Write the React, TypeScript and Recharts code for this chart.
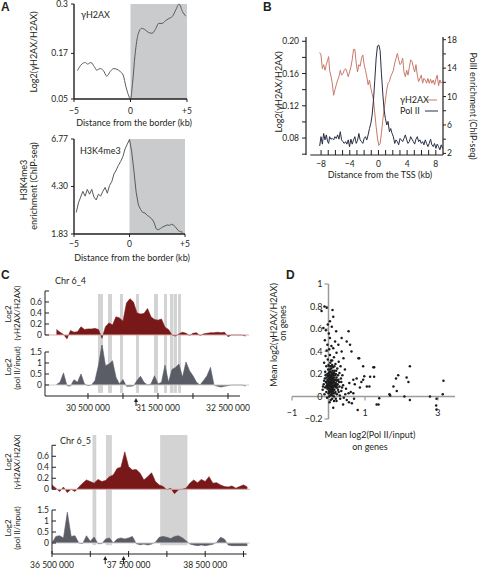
import React from 'react';
import {
  LineChart,
  Line,
  AreaChart,
  Area,
  ScatterChart,
  Scatter,
  XAxis,
  YAxis,
  ReferenceArea,
  ReferenceLine,
  ReferenceDot,
} from 'recharts';

const FONT = 'Lato, "Open Sans", sans-serif';
const INK = '#231f20';
const SHADE = '#c9cbcd';
const BAND = '#cbcbcb';
const MAROON = '#781818';
const SLATE = '#5b5d66';
const SALMON = '#c87a6c';
const NAVY = '#2a2e45';
const AXIS_GRAY = '#9b9b9b';

// A: profiles around domain borders (kb)
const gammaBorderKb = [-4.7, -4.3, -4.0, -3.8, -3.5, -3.2, -3.0, -2.7, -2.4, -2.1, -1.8, -1.5, -1.2, -0.9, -0.65, -0.4, -0.2, 0, 0.18, 0.4, 0.7, 1.0, 1.3, 1.6, 1.9, 2.2, 2.5, 2.8, 3.1, 3.4, 3.7, 4.0, 4.3, 4.6, 4.9];
const gammaBorder = [0.125, 0.142, 0.146, 0.142, 0.146, 0.135, 0.126, 0.13, 0.125, 0.11, 0.122, 0.13, 0.128, 0.122, 0.113, 0.082, 0.062, 0.05, 0.091, 0.166, 0.223, 0.236, 0.232, 0.225, 0.223, 0.233, 0.249, 0.249, 0.256, 0.262, 0.267, 0.284, 0.3, 0.28, 0.268];
const k4BorderKb = [-4.8, -4.6, -4.4, -4.2, -4.0, -3.8, -3.6, -3.4, -3.2, -3.0, -2.8, -2.6, -2.4, -2.2, -2.0, -1.8, -1.6, -1.4, -1.2, -1.0, -0.8, -0.6, -0.4, -0.2, 0, 0.2, 0.4, 0.6, 0.8, 1.0, 1.2, 1.4, 1.6, 1.8, 2.0, 2.2, 2.4, 2.6, 2.8, 3.0, 3.2, 3.4, 3.6, 3.8, 4.0, 4.2, 4.4, 4.6, 4.8];
const k4Border = [2.95, 3.45, 3.75, 4.05, 3.8, 4.15, 3.9, 4.15, 3.75, 3.6, 3.9, 3.8, 4.05, 4.25, 3.95, 4.35, 4.55, 4.95, 5.15, 5.4, 5.6, 5.85, 6.25, 6.5, 6.75, 6.1, 5.1, 4.0, 3.35, 3.1, 2.95, 2.92, 2.8, 2.72, 2.62, 2.45, 2.1, 2.05, 2.12, 2.2, 2.25, 2.3, 2.28, 2.34, 2.28, 2.15, 2.0, 1.95, 1.92];

// B: profiles around the TSS
const tssKb = [-8.19, -8.01, -7.82, -7.64, -7.45, -7.27, -7.08, -6.94, -6.81, -6.62, -6.44, -6.25, -6.06, -5.88, -5.69, -5.51, -5.32, -5.14, -4.95, -4.77, -4.58, -4.4, -4.21, -4.03, -3.84, -3.66, -3.47, -3.29, -3.1, -2.92, -2.73, -2.55, -2.36, -2.18, -1.99, -1.81, -1.62, -1.44, -1.25, -1.06, -0.88, -0.69, -0.51, -0.32, -0.14, 0.05, 0.23, 0.42, 0.6, 0.79, 0.97, 1.16, 1.34, 1.53, 1.71, 1.9, 2.08, 2.27, 2.45, 2.64, 2.82, 3.01, 3.19, 3.38, 3.56, 3.75, 3.94, 4.12, 4.31, 4.49, 4.68, 4.86, 5.05, 5.23, 5.42, 5.6, 5.79, 5.97, 6.16, 6.34, 6.53, 6.71, 6.9, 7.08, 7.27, 7.45, 7.64, 7.82, 8.01, 8.19, 8.38, 8.56, 8.75, 8.94];
const gammaTss = [0.186, 0.183, 0.166, 0.171, 0.164, 0.171, 0.177, 0.181, 0.164, 0.157, 0.148, 0.133, 0.14, 0.146, 0.152, 0.156, 0.164, 0.158, 0.16, 0.164, 0.166, 0.162, 0.156, 0.162, 0.168, 0.177, 0.19, 0.19, 0.173, 0.162, 0.171, 0.169, 0.179, 0.183, 0.171, 0.164, 0.156, 0.146, 0.152, 0.142, 0.135, 0.127, 0.111, 0.094, 0.08, 0.071, 0.073, 0.086, 0.102, 0.115, 0.127, 0.14, 0.148, 0.15, 0.156, 0.16, 0.164, 0.173, 0.179, 0.185, 0.177, 0.171, 0.173, 0.179, 0.162, 0.156, 0.164, 0.158, 0.168, 0.177, 0.175, 0.168, 0.162, 0.171, 0.158, 0.15, 0.154, 0.158, 0.148, 0.154, 0.152, 0.148, 0.154, 0.148, 0.153, 0.148, 0.152, 0.146, 0.153, 0.158, 0.145, 0.152, 0.148, 0.15];
const polTss = [3.04, 4.35, 3.3, 4.8, 3.9, 4.6, 3.65, 3.4, 4.35, 4.0, 4.1, 3.9, 4.35, 4.1, 4.6, 4.0, 5.05, 3.9, 3.65, 3.4, 3.65, 3.3, 3.9, 2.95, 4.0, 3.3, 3.9, 4.35, 3.4, 3.8, 4.8, 3.9, 3.65, 3.4, 4.1, 4.35, 3.9, 4.6, 5.5, 6.2, 7.4, 9.5, 12.3, 15.4, 17.1, 17.25, 16.5, 13.2, 10.5, 8.1, 6.9, 6.0, 6.5, 5.05, 5.5, 4.8, 4.35, 3.4, 3.9, 3.65, 3.2, 4.1, 3.9, 3.65, 4.1, 4.6, 3.9, 3.4, 3.65, 4.35, 4.0, 3.65, 3.3, 4.0, 4.35, 3.65, 3.9, 3.4, 3.65, 3.2, 3.9, 3.4, 2.95, 3.4, 4.0, 3.2, 2.95, 3.4, 2.7, 3.3, 2.95, 2.5, 3.2, 2.7];

// C: genome browser tracks (Mb)
const chr64Mb = [30.05, 30.1, 30.15, 30.2, 30.25, 30.3, 30.35, 30.4, 30.45, 30.5, 30.55, 30.6, 30.65, 30.7, 30.75, 30.8, 30.85, 30.9, 30.95, 31.0, 31.05, 31.1, 31.15, 31.2, 31.25, 31.3, 31.35, 31.4, 31.45, 31.5, 31.55, 31.6, 31.65, 31.7, 31.75, 31.8, 31.85, 31.9, 31.95, 32.0, 32.05, 32.1, 32.15, 32.2, 32.25, 32.3, 32.35, 32.4, 32.45, 32.5, 32.55, 32.6, 32.65, 32.7, 32.75];
const chr64Gamma = [0.1, 0.05, 0.01, -0.07, 0.08, 0.05, 0.06, 0.15, 0.1, 0.11, 0.11, 0.12, 0.1, -0.06, 0.15, 0.22, 0.18, 0.33, 0.31, 0.25, 0.58, 0.66, 0.6, 0.4, 0.38, 0.39, 0.48, 0.33, 0.28, 0.27, 0.29, 0.14, 0.1, 0.0, -0.02, 0.02, 0.05, 0.03, -0.01, 0.03, 0.04, -0.01, 0.02, 0.03, 0.04, 0.04, 0.05, 0.04, 0.05, -0.03, 0, 0, 0, 0, -0.02];
const chr64Pol = [0.02, 0.12, 0.55, -0.03, -0.05, 0.24, 0.12, 0.5, 0.05, -0.03, 0, 0.2, 0.9, 1.85, 0.88, 0.95, 1.1, 0.35, 0.05, 0.25, -0.06, -0.06, -0.04, 0.2, 0.4, 0.12, 0, 0.05, 0.42, 0.05, 0.12, 0.9, 0.12, 0.7, 0.8, 0.95, 0.35, 1.05, 0.65, 0.42, 0.12, 0, 0.2, 0.42, 0.8, 0, -0.06, -0.09, -0.06, -0.03, 0, 0, 0, 0, -0.05];
const chr64Bands = [[30.643, 30.714], [30.786, 30.843], [30.957, 31.0], [31.186, 31.229], [31.443, 31.5], [31.586, 31.629], [31.671, 31.714], [31.721, 31.771], [31.786, 31.829]];
const chr64Arrows = [31.186];
const chr64Ticks = [30.5, 31.0, 31.5, 32.0, 32.5];

const chr65Mb = [36.5, 36.55, 36.6, 36.65, 36.7, 36.75, 36.8, 36.85, 36.9, 36.95, 37.0, 37.05, 37.1, 37.15, 37.2, 37.25, 37.3, 37.35, 37.4, 37.45, 37.5, 37.55, 37.6, 37.65, 37.7, 37.75, 37.8, 37.85, 37.9, 37.95, 38.0, 38.05, 38.1, 38.15, 38.2, 38.25, 38.3, 38.35, 38.4, 38.45, 38.5, 38.55, 38.6, 38.65, 38.7, 38.75, 38.8, 38.85, 38.9, 38.95, 39.0, 39.05];
const chr65Gamma = [0.08, 0.02, -0.04, 0.04, -0.06, 0, -0.04, 0.04, 0.11, 0.17, 0.14, 0.11, 0.18, 0.14, 0.16, 0.23, 0.26, 0.38, 0.4, 0.68, 0.41, 0.35, 0.36, 0.29, 0.17, 0.23, 0.3, 0.14, 0.08, 0.05, -0.01, 0.02, -0.08, -0.01, 0, 0.02, 0.11, 0.17, 0.12, 0.18, 0.14, 0.23, 0.11, 0.12, 0.08, 0.05, 0.04, 0.06, 0.02, 0.05, 0.08, 0.04];
const chr65Pol = [0, 0.3, 0.33, 0.23, 1.4, 0.3, 0.33, 0, -0.03, 0.33, 0.08, 0.27, -0.03, -0.03, 0.18, 0.23, 0, 0.18, 0.23, 0.18, 0.23, 0.3, -0.03, -0.08, -0.05, -0.09, -0.05, 0.03, 0.26, 0.3, 0.26, 0.2, 0.3, 0.33, 0.24, 0.1, -0.05, -0.09, -0.12, -0.09, -0.12, -0.09, -0.06, 0.03, 0.26, 0.18, -0.09, -0.12, -0.12, -0.12, -0.12, -0.12];
const chr65Bands = [[37.029, 37.078], [37.204, 37.282], [37.912, 38.268]];
const chr65Arrows = [37.195, 37.434];
const chr65Ticks = [36.5, 37.0, 37.5, 38.0, 38.5, 39.0];

// D: per-gene means [log2(Pol II/input), log2(gH2AX/H2AX)]
const genePoints: [number, number][] = [
  [-0.11, 0.8], [-0.05, 0.79], [-0.19, 0.76], [0.11, 0.77], [0.13, 0.71], [0.04, 0.67], [-0.02, 0.64], [0.09, 0.62],
  [-0.14, 0.61], [-0.07, 0.59], [0.21, 0.58], [0.55, 0.58], [0.01, 0.56], [0.36, 0.52], [0.04, 0.52], [-0.1, 0.5],
  [0.18, 0.49], [0.5, 0.49], [0.27, 0.46], [0.59, 0.46], [-0.03, 0.46], [0.08, 0.45], [0.13, 0.43], [-0.05, 0.41],
  [0.63, 0.4], [0.36, 0.4], [0.02, 0.42], [0.22, 0.39], [0.04, 0.37], [-0.08, 0.36], [0.15, 0.35], [0.41, 0.34],
  [0.82, 0.34], [-0.02, 0.33], [0.1, 0.32], [0.28, 0.31], [0.05, 0.3], [-0.12, 0.3], [0.19, 0.29], [0.0, 0.28],
  [0.95, 0.27], [1.25, 0.26], [0.33, 0.27], [-0.06, 0.27], [0.12, 0.26], [0.07, 0.25], [0.24, 0.25], [-0.01, 0.24],
  [0.45, 0.24], [0.16, 0.23], [0.03, 0.22], [-0.09, 0.22], [0.09, 0.21], [0.3, 0.21], [0.2, 0.2], [-0.03, 0.2],
  [0.13, 0.2], [0.05, 0.19], [0.38, 0.19], [0.0, 0.18], [0.08, 0.18], [0.15, 0.17], [-0.05, 0.17], [0.22, 0.17],
  [0.03, 0.16], [0.11, 0.16], [-0.1, 0.16], [0.27, 0.15], [0.06, 0.15], [0.18, 0.15], [-0.02, 0.14], [0.1, 0.14],
  [0.01, 0.13], [0.14, 0.13], [0.35, 0.13], [-0.07, 0.13], [0.05, 0.12], [0.2, 0.12], [0.09, 0.12], [-0.13, 0.11],
  [0.02, 0.11], [0.25, 0.11], [0.12, 0.1], [0.07, 0.1], [-0.04, 0.1], [0.17, 0.1], [0.4, 0.1], [0.0, 0.09],
  [0.04, 0.09], [0.14, 0.09], [0.3, 0.09], [-0.09, 0.08], [0.08, 0.08], [0.21, 0.08], [0.02, 0.07], [0.11, 0.07],
  [0.48, 0.07], [-0.03, 0.07], [0.16, 0.06], [0.06, 0.06], [0.26, 0.06], [-0.16, 0.06], [0.01, 0.05], [0.1, 0.05],
  [0.35, 0.05], [0.04, 0.04], [0.19, 0.04], [-0.06, 0.04], [0.13, 0.03], [0.55, 0.03], [0.0, 0.03], [0.08, 0.02],
  [0.23, 0.02], [-0.11, 0.02], [0.05, 0.01], [0.31, 0.01], [0.15, 0.0], [0.02, 0.0], [0.42, -0.01], [-0.04, -0.01],
  [0.1, -0.02], [0.2, -0.02], [0.06, -0.03], [0.32, -0.02], [0.5, -0.03], [0.15, -0.04], [0.22, -0.04], [0.64, -0.06],
  [0.03, -0.05], [0.13, -0.1], [0.4, -0.07], [0.8, -0.12], [0.03, 0.21], [0.07, 0.14], [0.12, 0.19], [-0.01, 0.11],
  [0.04, 0.13], [0.09, 0.16], [0.14, 0.06], [0.18, 0.19], [-0.08, 0.19], [0.06, 0.27], [0.01, 0.16], [0.1, 0.09],
  [0.16, 0.13], [0.23, 0.14], [0.02, 0.19], [0.08, 0.04], [0.12, 0.12], [-0.02, 0.08], [0.05, 0.07], [0.19, 0.09],
  [0.26, 0.19], [0.11, 0.23], [-0.05, 0.12], [0.07, 0.17], [0.03, 0.1], [0.14, 0.15], [0.0, 0.14], [0.09, 0.19],
  [0.17, 0.03], [0.21, 0.23], [-0.12, 0.14], [0.06, 0.12], [0.13, 0.17], [0.02, 0.03], [0.1, 0.28], [0.29, 0.13],
  [0.04, 0.24], [-0.06, 0.09], [0.15, 0.21], [0.08, 0.1], [0.34, 0.16], [0.01, 0.21], [0.18, 0.11], [0.11, 0.01],
  [0.24, 0.08], [-0.03, 0.15], [0.07, 0.32], [0.16, 0.27], [0.05, 0.17], [0.12, 0.05], [-0.15, 0.09], [0.28, 0.04],
  [0.09, 0.06], [0.2, 0.15], [0.03, 0.27], [0.37, 0.08], [-0.01, 0.19], [0.13, 0.08], [0.06, 0.22], [0.22, 0.1],
  [0.68, 0.15], [0.77, 0.16], [0.95, 0.15], [0.98, 0.18], [1.14, 0.175], [1.25, 0.175], [1.05, 0.09], [0.86, 0.08],
  [1.12, 0.09], [0.61, 0.04], [0.68, 0.03], [0.57, 0.12], [0.72, 0.11], [0.9, 0.13], [1.39, -0.015], [1.37, -0.07],
  [1.32, -0.07], [1.23, 0.26], [0.84, 0.34], [0.46, 0.02], [0.7, -0.02], [0.56, -0.05],
  [1.67, 0.02], [1.78, 0.09], [1.85, 0.16], [1.91, 0.19], [1.87, 0.05], [2.08, 0.0], [2.14, 0.17], [2.19, 0.13],
  [2.23, 0.27], [2.23, -0.03], [2.78, 0.0], [2.96, -0.02], [3.15, 0.14], [3.13, 0.02], [2.95, -0.08], [2.96, -0.115],
  [1.69, 0.01],
];
const dYTicks = [-0.2, 0, 0.2, 0.4, 0.6, 0.8, 1];
const dXTicks = [-1, 1, 3];

const tickFont = { fontFamily: FONT, fontSize: 8.5, fill: INK };

const minus = (v: number) => (v < 0 ? `\u2212${Math.abs(v)}` : String(v));
const spaced = (v: number) => String(Math.round(v * 1e6)).replace(/\B(?=(\d{3})+(?!\d))/g, ' ');

// axis ticks drawn by hand: tickSize/tickMargin are 0, so x/y sit on the axis line
const leftTick = (len: number, gap: number, fmt: (v: number) => string) => (p: any) => {
  const label = fmt(p.payload.value);
  return (
    <g>
      <line x1={p.x} x2={p.x + len} y1={p.y} y2={p.y} stroke={INK} />
      {label && (
        <text x={p.x - gap} y={p.y} dy="0.35em" textAnchor="end" {...tickFont}>
          {label}
        </text>
      )}
    </g>
  );
};

const rightTick = (len: number, gap: number, fmt: (v: number) => string) => (p: any) => {
  const label = fmt(p.payload.value);
  return (
    <g>
      <line x1={p.x} x2={p.x + len} y1={p.y} y2={p.y} stroke={INK} />
      {label && (
        <text x={p.x + gap} y={p.y} dy="0.35em" textAnchor="start" {...tickFont}>
          {label}
        </text>
      )}
    </g>
  );
};

const bottomTick = (up: number, down: number, gap: number, fmt: (v: number) => string) => (p: any) => {
  const label = fmt(p.payload.value);
  return (
    <g>
      <line x1={p.x} x2={p.x} y1={p.y - up} y2={p.y + down} stroke={INK} />
      {label && (
        <text x={p.x} y={p.y + gap} dy="0.35em" textAnchor="middle" {...tickFont}>
          {label}
        </text>
      )}
    </g>
  );
};

const borderFmt = (v: number) => (v > 0 ? `+${v}` : minus(v));

function GammaBorder() {
  const data = gammaBorderKb.map((kb, i) => ({ kb, v: gammaBorder[i] }));
  return (
    <LineChart width={200} height={130} data={data} margin={{ top: 4, right: 13, bottom: 0, left: 0 }}>
      <XAxis type="number" dataKey="kb" domain={[-5, 5]} ticks={[-5, 0, 5]} interval={0} height={31} tickSize={0}
        tickMargin={0} tickLine={false} axisLine={{ stroke: INK, strokeWidth: 1.4 }} tick={bottomTick(0, 3, 12, borderFmt)} />
      <YAxis type="number" domain={[0.05, 0.3]} ticks={[0.05, 0.17, 0.3]} interval={0} width={74} tickSize={0}
        tickMargin={0} tickLine={false} axisLine={{ stroke: INK, strokeWidth: 1.4 }}
        tick={leftTick(-3, 6, (v) => (v === 0.3 ? '0.3' : v.toFixed(2)))} />
      <ReferenceArea x1={0} x2={5} fill={SHADE} fillOpacity={1} stroke="none" />
      <Line dataKey="v" type="monotone" stroke="#5a5a5a" strokeWidth={1} dot={false} isAnimationActive={false} />
    </LineChart>
  );
}

function K4Border() {
  const data = k4BorderKb.map((kb, i) => ({ kb, v: k4Border[i] }));
  return (
    <LineChart width={200} height={130} data={data} margin={{ top: 4, right: 15, bottom: 0, left: 0 }}>
      <XAxis type="number" dataKey="kb" domain={[-5, 5]} ticks={[-5, 0, 5]} interval={0} height={31} tickSize={0}
        tickMargin={0} tickLine={false} axisLine={{ stroke: INK, strokeWidth: 1.4 }} tick={bottomTick(0, 3, 10, borderFmt)} />
      <YAxis type="number" domain={[1.83, 6.77]} ticks={[1.83, 4.3, 6.77]} interval={0} width={74} tickSize={0}
        tickMargin={0} tickLine={false} axisLine={{ stroke: INK, strokeWidth: 1.4 }} tick={leftTick(-3, 6, (v) => v.toFixed(2))} />
      <ReferenceArea x1={0} x2={5} fill={SHADE} fillOpacity={1} stroke="none" />
      <Line dataKey="v" type="linear" stroke="#5a5a5a" strokeWidth={1} dot={false} isAnimationActive={false} />
    </LineChart>
  );
}

function TssProfile() {
  const data = tssKb.map((kb, i) => ({ kb, gamma: gammaTss[i], pol: polTss[i] }));
  const xTicks = [-8, -7, -6, -5, -4, -3, -2, -1, 0, 1, 2, 3, 4, 5, 6, 7, 8];
  const leftTicks = [0.06, 0.08, 0.1, 0.12, 0.14, 0.16, 0.18, 0.2];
  const rightTicks = [2, 4, 6, 8, 10, 12, 14, 16, 18];
  return (
    <LineChart width={238} height={190} data={data} margin={{ top: 37, right: 0, bottom: 0, left: 0 }}>
      <XAxis type="number" dataKey="kb" domain={[-10.1, 9]} ticks={xTicks} interval={0} height={35} tickSize={0}
        tickMargin={0} tickLine={false} axisLine={false}
        tick={bottomTick(5, 0, 9, (v) => (v % 4 === 0 ? minus(v) : ''))} />
      <YAxis yAxisId="left" type="number" domain={[0.059, 0.2053]} ticks={leftTicks} interval={0} width={66}
        tickSize={0} tickMargin={0} tickLine={false} axisLine={{ stroke: INK, strokeWidth: 1.2 }}
        tick={leftTick(-4, 7, (v) => (Math.round(v * 100) % 4 === 0 ? v.toFixed(2) : ''))} />
      <YAxis yAxisId="right" orientation="right" type="number" domain={[1.77, 18.38]} ticks={rightTicks} interval={0}
        width={35} tickSize={0} tickMargin={0} tickLine={false} axisLine={{ stroke: INK, strokeWidth: 1.2 }}
        tick={rightTick(3, 4, (v) => ((v - 2) % 4 === 0 ? String(v) : ''))} />
      <ReferenceLine yAxisId="right" segment={[{ x: -9.5, y: 1.77 }, { x: 9, y: 1.77 }]} stroke={INK} strokeWidth={1.2} />
      <Line yAxisId="left" dataKey="gamma" type="linear" stroke={SALMON} strokeWidth={1} dot={false} isAnimationActive={false} />
      <Line yAxisId="right" dataKey="pol" type="linear" stroke={NAVY} strokeWidth={1} dot={false} isAnimationActive={false} />
    </LineChart>
  );
}

const upArrow = (p: any) => (
  <g>
    <line x1={p.cx} x2={p.cx} y1={p.cy + 4} y2={p.cy + 10} stroke={INK} strokeWidth={1} />
    <polygon points={`${p.cx - 2},${p.cy + 6} ${p.cx + 2},${p.cy + 6} ${p.cx},${p.cy + 2}`} fill={INK} />
  </g>
);

interface TrackProps {
  mb: number[];
  values: number[];
  bands: number[][];
  xDomain: [number, number];
  yDomain: [number, number];
  bandY: [number, number];
  yTicks: number[];
  axisSpan: [number, number];
  width: number;
  height: number;
  top: number;
  right: number;
  yWidth: number;
  color: string;
  zeroColor: string;
  yFmt: (v: number) => string;
  bottom?: {
    ticks: number[];
    axisEnd: number;
    height: number;
    gap: number;
    arrows: number[];
  };
}

function Track(t: TrackProps) {
  const data = t.mb.map((m, i) => ({ m, v: t.values[i] }));
  const x0 = t.xDomain[0];
  return (
    <AreaChart width={t.width} height={t.height} data={data} margin={{ top: t.top, right: t.right, bottom: 0, left: 0 }}>
      {t.bottom ? (
        <XAxis type="number" dataKey="m" domain={t.xDomain} ticks={t.bottom.ticks} interval={0} height={t.bottom.height}
          tickSize={0} tickMargin={0} tickLine={false} axisLine={false} allowDataOverflow
          tick={bottomTick(3, 3, t.bottom.gap, (v) => (Math.round(v * 10) % 10 === 5 ? spaced(v) : ''))} />
      ) : (
        <XAxis type="number" dataKey="m" domain={t.xDomain} hide allowDataOverflow />
      )}
      <YAxis type="number" domain={t.yDomain} ticks={t.yTicks} interval={0} width={t.yWidth} tickSize={0}
        tickMargin={0} tickLine={false} axisLine={false} allowDataOverflow tick={leftTick(4, 3, t.yFmt)} />
      {t.bands.map(([a, b]) => (
        <ReferenceArea key={a} x1={a} x2={b} y1={t.bandY[0]} y2={t.bandY[1]} fill={BAND} fillOpacity={0.85} stroke="none" />
      ))}
      <ReferenceLine y={0} stroke={t.zeroColor} strokeWidth={1} />
      <Area dataKey="v" type="linear" baseValue={0} stroke={t.color} strokeWidth={0.6} fill={t.color} fillOpacity={1}
        isAnimationActive={false} />
      <ReferenceLine segment={[{ x: x0, y: t.axisSpan[0] }, { x: x0, y: t.axisSpan[1] }]} stroke={INK} strokeWidth={1} />
      {t.bottom && (
        <ReferenceLine segment={[{ x: x0, y: t.yDomain[0] }, { x: t.bottom.axisEnd, y: t.yDomain[0] }]} stroke={INK}
          strokeWidth={1} />
      )}
      {t.bottom &&
        t.bottom.arrows.map((a) => (
          <ReferenceDot key={a} x={a} y={t.yDomain[0]} r={0} ifOverflow="visible" shape={upArrow} />
        ))}
    </AreaChart>
  );
}

const gammaFmt = (v: number) => (v >= 0.8 ? '' : String(v));

function GeneScatter() {
  const data = genePoints.map(([x, y]) => ({ x, y }));
  return (
    <ScatterChart width={198} height={150} margin={{ top: 6, right: 23, bottom: 9, left: 12 }}>
      <XAxis type="number" dataKey="x" domain={[-1, 3.466]} hide />
      <YAxis type="number" dataKey="y" domain={[-0.2, 1]} hide />
      <ReferenceLine x={0} stroke={AXIS_GRAY} strokeWidth={1.5} />
      <ReferenceLine y={0} stroke={AXIS_GRAY} strokeWidth={1.5} />
      {dYTicks.map((v) => (
        <ReferenceDot key={`y${v}`} x={0} y={v} r={0} ifOverflow="visible"
          shape={(p: any) => (
            <g>
              <line x1={p.cx - 4} x2={p.cx} y1={p.cy} y2={p.cy} stroke={AXIS_GRAY} strokeWidth={1.2} />
              <text x={p.cx - 6} y={p.cy} dy="0.35em" textAnchor="end" {...tickFont} fontSize={9}>
                {minus(v)}
              </text>
            </g>
          )} />
      ))}
      {dXTicks.map((v) => (
        <ReferenceDot key={`x${v}`} x={v} y={0} r={0} ifOverflow="visible"
          shape={(p: any) => (
            <g>
              <line x1={p.cx} x2={p.cx} y1={p.cy} y2={p.cy + 4} stroke={AXIS_GRAY} strokeWidth={1.2} />
              <text x={p.cx} y={p.cy + 16} dy="0.35em" textAnchor="middle" {...tickFont} fontSize={9}>
                {minus(v)}
              </text>
            </g>
          )} />
      ))}
      <Scatter data={data} fill="#1c1c1c" isAnimationActive={false}
        shape={(p: any) => <circle cx={p.cx} cy={p.cy} r={1.25} fill="#1c1c1c" />} />
    </ScatterChart>
  );
}

const T = ({ x, y, children, anchor = 'start', rot = 0, size = 9, weight = 400 }: any) => (
  <text x={x} y={y} textAnchor={rot ? 'middle' : anchor} dominantBaseline={rot ? 'central' : undefined}
    transform={rot ? `rotate(${rot} ${x} ${y})` : undefined} fontFamily={FONT} fontSize={size} fontWeight={weight}
    fill={INK}>
    {children}
  </text>
);

const Letter = ({ x, y, children }: any) => (
  <text x={x} y={y} fontFamily='"Liberation Sans", Arial, sans-serif' fontSize={12} fontWeight={700} fill={INK}>
    {children}
  </text>
);

export default function App() {
  return (
    <div style={{ position: 'fixed', left: 0, top: 0, width: 478, height: 569, background: '#fff', overflow: 'hidden' }}>
      <div style={{ position: 'absolute', left: 0, top: 0 }}>
        <GammaBorder />
      </div>
      <div style={{ position: 'absolute', left: 0, top: 135 }}>
        <K4Border />
      </div>
      <div style={{ position: 'absolute', left: 240, top: 0 }}>
        <TssProfile />
      </div>
      <div style={{ position: 'absolute', left: 0, top: 286 }}>
        <Track mb={chr64Mb} values={chr64Gamma} bands={chr64Bands} xDomain={[29.886, 32.8]} yDomain={[-0.182, 0.818]}
          bandY={[-0.182, 0.745]} yTicks={[0, 0.2, 0.4, 0.6, 0.8]} axisSpan={[0, 0.8]} width={260} height={59} top={4}
          right={11} yWidth={45} color={MAROON} zeroColor="#d9aaaa" yFmt={gammaFmt} />
      </div>
      <div style={{ position: 'absolute', left: 0, top: 345 }}>
        <Track mb={chr64Mb} values={chr64Pol} bands={chr64Bands} xDomain={[29.886, 32.8]} yDomain={[-0.5, 1.818]}
          bandY={[-0.36, 1.818]} yTicks={[0, 0.5, 1, 1.5]} axisSpan={[-0.5, 1.5]} width={260} height={75} top={0}
          right={11} yWidth={45} color={SLATE} zeroColor="#cfcfcf" yFmt={(v) => String(v)}
          bottom={{ ticks: chr64Ticks, axisEnd: 32.671, height: 24, gap: 12, arrows: chr64Arrows }} />
      </div>
      <div style={{ position: 'absolute', left: 0, top: 430 }}>
        <Track mb={chr65Mb} values={chr65Gamma} bands={chr65Bands} xDomain={[36.5, 39.085]} yDomain={[-0.195, 0.987]}
          bandY={[-0.195, 0.987]} yTicks={[0, 0.2, 0.4, 0.6, 0.8]} axisSpan={[0, 0.8]} width={260} height={70} top={5}
          right={10} yWidth={52} color={MAROON} zeroColor="#d9aaaa" yFmt={gammaFmt} />
      </div>
      <div style={{ position: 'absolute', left: 0, top: 500 }}>
        <Track mb={chr65Mb} values={chr65Pol} bands={chr65Bands} xDomain={[36.5, 39.085]} yDomain={[-0.5, 1.955]}
          bandY={[-0.1, 1.955]} yTicks={[0, 0.5, 1, 1.5]} axisSpan={[-0.5, 1.5]} width={260} height={69} top={0}
          right={10} yWidth={52} color={SLATE} zeroColor="#cfcfcf" yFmt={(v) => String(v)}
          bottom={{ ticks: chr65Ticks, axisEnd: 39.04, height: 15, gap: 11, arrows: chr65Arrows }} />
      </div>
      <div style={{ position: 'absolute', left: 280, top: 278 }}>
        <GeneScatter />
      </div>

      <svg width={478} height={569} style={{ position: 'absolute', left: 0, top: 0, pointerEvents: 'none' }}>
        <Letter x={1} y={11}>A</Letter>
        <Letter x={263} y={11}>B</Letter>
        <Letter x={1} y={279}>C</Letter>
        <Letter x={286} y={279}>D</Letter>

        <T x={33} y={52} rot={-90}>Log2(γH2AX/H2AX)</T>
        <T x={81} y={18}>γH2AX</T>
        <T x={134} y={126} anchor="middle">Distance from the border (kb)</T>
        <T x={23} y={180} rot={-90}>H3K4me3</T>
        <T x={33} y={186} rot={-90}>enrichment (ChIP-seq)</T>
        <T x={80} y={154}>H3K4me3</T>
        <T x={132} y={261} anchor="middle">Distance from the border (kb)</T>

        <T x={278} y={92} rot={-90}>Log2(γH2AX/H2AX)</T>
        <T x={473} y={106} rot={90}>PolII enrichment (ChIP-seq)</T>
        <T x={380} y={178} anchor="middle">Distance from the TSS (kb)</T>
        <T x={400} y={103}>γH2AX</T>
        <line x1={427} x2={437} y1={100} y2={100} stroke={SALMON} strokeWidth={1} />
        <T x={400} y={114}>Pol II</T>
        <line x1={425} x2={438} y1={111} y2={111} stroke={NAVY} strokeWidth={1} />

        <T x={55} y={284}>Chr 6_4</T>
        <T x={8} y={314} rot={-90} size={8}>Log2</T>
        <T x={17} y={313} rot={-90} size={8}>(γH2AX/H2AX)</T>
        <T x={8} y={367} rot={-90} size={8}>Log2</T>
        <T x={17} y={368} rot={-90} size={8}>(pol II/input)</T>
        <T x={60} y={444}>Chr 6_5</T>
        <T x={8} y={462} rot={-90} size={8}>Log2</T>
        <T x={17} y={462} rot={-90} size={8}>(γH2AX/H2AX)</T>
        <T x={8} y={528} rot={-90} size={8}>Log2</T>
        <T x={17} y={528} rot={-90} size={8}>(pol II/input)</T>

        <T x={273} y={335} rot={-90}>Mean log2(γH2AX/H2AX)</T>
        <T x={282} y={323} rot={-90}>on genes</T>
        <T x={370} y={438} anchor="middle">Mean log2(Pol II/input)</T>
        <T x={370} y={450} anchor="middle">on genes</T>
      </svg>
    </div>
  );
}
